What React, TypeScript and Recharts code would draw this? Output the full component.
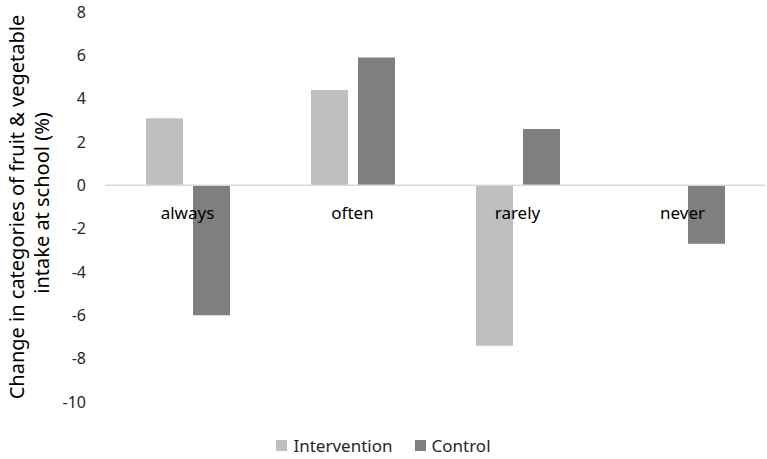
import React from "react";
import { BarChart, Bar, XAxis, YAxis, ReferenceLine } from "recharts";

const categories = ["always", "often", "rarely", "never"];
const intervention = [3.1, 4.4, -7.4, 0];
const control = [-6.0, 5.9, 2.6, -2.7];
const yTicks = [8, 6, 4, 2, 0, -2, -4, -6, -8, -10];

const FONT = "'Noto Sans', 'Open Sans', sans-serif";
const C_INT = "#BFBFBF";
const C_CTL = "#7F7F7F";

const data = categories.map((c, i) => ({ cat: c, Intervention: intervention[i], Control: control[i] }));

function LegendBox() {
  const items = [
    { name: "Intervention", color: C_INT },
    { name: "Control", color: C_CTL },
  ];
  return (
    <div style={{ position: "absolute", left: 0, top: 434, width: 767, display: "flex", justifyContent: "center", gap: 22, fontFamily: FONT, fontSize: 17, color: "#262626" }}>
      {items.map((it) => (
        <div key={it.name} style={{ display: "flex", alignItems: "center", gap: 6 }}>
          <span style={{ width: 11, height: 11, background: it.color, display: "inline-block" }} />
          <span>{it.name}</span>
        </div>
      ))}
    </div>
  );
}

export default function App() {
  return (
    <div style={{ position: "absolute", left: 0, top: 0, width: 767, height: 459, background: "#fff" }}>
      <BarChart width={767} height={459} data={data} margin={{ top: 12, right: 2, bottom: 27, left: 0 }} barSize={37} barGap={10}>
        <YAxis
          width={105}
          domain={[-10, 8]}
          ticks={yTicks}
          interval={0}
          axisLine={false}
          tickLine={false}
          tickMargin={13}
          tick={{ fontFamily: FONT, fontSize: 16, fill: "#262626" }}
        />
        <XAxis
          dataKey="cat"
          height={30}
          axisLine={false}
          tickLine={false}
          tick={{ fontFamily: FONT, fontSize: 17, fill: "#000", dy: -203 }}
        />
        <ReferenceLine y={0} stroke="#D9D9D9" strokeWidth={1.5} />
        <Bar dataKey="Intervention" fill={C_INT} isAnimationActive={false} />
        <Bar dataKey="Control" fill={C_CTL} isAnimationActive={false} />
        <text transform="translate(16,207) rotate(-90)" textAnchor="middle" dominantBaseline="central" fontFamily={FONT} fontSize={20} fill="#000">
          Change in categories of fruit &amp; vegetable
        </text>
        <text transform="translate(41,203) rotate(-90)" textAnchor="middle" dominantBaseline="central" fontFamily={FONT} fontSize={20} fill="#000">
          {"intake at school  (%)"}
        </text>
      </BarChart>
      <LegendBox />
    </div>
  );
}
